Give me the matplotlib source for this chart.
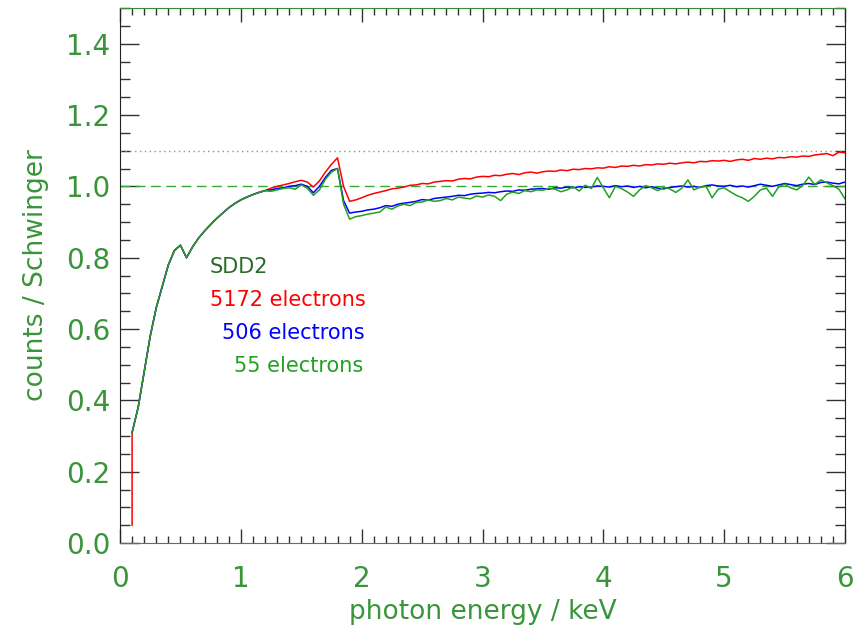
import numpy as np
import matplotlib
matplotlib.use('Agg')
import matplotlib.pyplot as plt
from matplotlib.ticker import MultipleLocator

# photon energy grid (keV), 0.05 keV bins from 0.10 to 6.00
energy = np.round(np.arange(0.10, 6.001, 0.05), 3)

# common rise below 1.25 keV (0.10 .. 1.20)
rise = [0.31, 0.38, 0.48, 0.58, 0.66, 0.72, 0.78, 0.82, 0.835, 0.80, 0.83,
        0.855, 0.875, 0.893, 0.91, 0.925, 0.94, 0.952, 0.962, 0.970, 0.977,
        0.983, 0.988]

# counts / Schwinger, 5172 electrons
red_tail = [0.995, 1.000, 1.004, 1.008, 1.013, 1.017, 1.012, 0.998, 1.015, 1.040,
            1.062, 1.080, 1.000, 0.958, 0.962, 0.968,
            0.975, 0.980, 0.984, 0.988, 0.993, 0.995, 0.998, 1.003, 1.004, 1.008,
            1.007, 1.012, 1.014, 1.016, 1.015, 1.020, 1.022, 1.021, 1.026, 1.028,
            1.027, 1.031, 1.030, 1.034, 1.036, 1.033, 1.038, 1.040, 1.037, 1.041,
            1.043, 1.042, 1.046, 1.044, 1.048, 1.047, 1.050, 1.049, 1.052, 1.051,
            1.055, 1.053, 1.057, 1.056, 1.059, 1.057, 1.061, 1.060, 1.063, 1.062,
            1.065, 1.063, 1.066, 1.068, 1.066, 1.070, 1.069, 1.072, 1.071, 1.073,
            1.070, 1.074, 1.076, 1.073, 1.078, 1.076, 1.079, 1.077, 1.081, 1.080,
            1.083, 1.082, 1.085, 1.084, 1.088, 1.090, 1.092, 1.086, 1.096, 1.094]

# counts / Schwinger, 506 electrons
blue_tail = [0.990, 0.994, 0.996, 1.000, 1.002, 1.006, 1.000, 0.982, 1.000, 1.025,
             1.045, 1.050, 0.960, 0.925, 0.928, 0.930,
             0.934, 0.936, 0.940, 0.946, 0.944, 0.950, 0.953, 0.955, 0.958, 0.963,
             0.961, 0.966, 0.968, 0.970, 0.972, 0.975, 0.974, 0.978, 0.980, 0.981,
             0.983, 0.982, 0.985, 0.987, 0.986, 0.990, 0.989, 0.992, 0.993, 0.994,
             0.992, 0.996, 0.995, 0.998, 0.996, 0.999, 0.997, 0.998, 1.001, 1.000,
             0.998, 1.002, 0.999, 1.001, 0.997, 1.000, 0.996, 0.999, 0.995, 0.993,
             0.997, 0.999, 1.001, 0.998, 1.000, 0.997, 1.002, 1.004, 1.001, 1.000,
             1.003, 0.999, 1.001, 0.998, 1.002, 1.006, 1.003, 1.000, 1.004, 1.008,
             1.005, 1.002, 1.006, 1.008, 1.005, 1.011, 1.012, 1.009, 1.007, 1.012]

# counts / Schwinger, 55 electrons
green_tail = [0.986, 0.990, 0.994, 0.996, 0.992, 1.004, 0.995, 0.975, 0.990, 1.020,
              1.040, 1.050, 0.950, 0.908, 0.915, 0.918,
              0.922, 0.925, 0.928, 0.942, 0.936, 0.945, 0.950, 0.946, 0.955, 0.956,
              0.962, 0.958, 0.960, 0.966, 0.962, 0.970, 0.967, 0.965, 0.973, 0.970,
              0.976, 0.972, 0.960, 0.978, 0.984, 0.980, 0.988, 0.985, 0.990, 0.989,
              0.995, 0.992, 0.985, 0.990, 0.999, 0.987, 1.003, 0.994, 1.025, 0.996,
              0.968, 1.000, 0.994, 0.984, 0.972, 0.990, 1.002, 0.996, 0.988, 0.997,
              0.993, 0.983, 0.995, 1.018, 0.990, 0.998, 1.000, 0.968, 0.992, 0.996,
              0.985, 0.975, 0.968, 0.958, 0.972, 0.990, 0.995, 0.972, 0.998, 1.006,
              0.996, 0.990, 1.002, 1.026, 1.005, 1.018, 1.010, 1.002, 0.992, 0.965]

# the 5172-electron run has one extra low bin at the start
red_start = 0.05

red = [red_start] + rise + red_tail
blue = rise + blue_tail
green = rise + green_tail
red_energy = np.concatenate([[energy[0]], energy])

labels = ['SDD2', '5172 electrons', '506 electrons', '55 electrons']
label_colors = ['#2a6a2a', '#ff0000', '#0000ff', '#22a022']
label_x = [0.745, 0.745, 0.845, 0.945]
label_y = [0.773, 0.680, 0.588, 0.496]

txt = '#3a943a'
plt.rcParams['font.family'] = 'DejaVu Sans'

fig = plt.figure(figsize=(8.61, 6.32), dpi=100)
ax = fig.add_axes([0.1394, 0.1408, 0.842, 0.8465])

ax.axhline(1.0, color='#33aa33', lw=1.0, dashes=(7, 4))
ax.axhline(1.1, color='#55bb55', lw=1.0, dashes=(1, 2.5))

ax.plot(red_energy, red, color='#ff0000', lw=1.1)
ax.plot(energy, blue, color='#0000ff', lw=1.1)
ax.plot(energy, green, color='#22a022', lw=1.1)

for s, c, x, y in zip(labels, label_colors, label_x, label_y):
    ax.text(x, y, s, color=c, fontsize=15, va='center', ha='left')

ax.set_xlim(0, 6)
ax.set_ylim(0, 1.5)
ax.set_yticks([0.0, 0.2, 0.4, 0.6, 0.8, 1.0, 1.2, 1.4])
ax.set_yticklabels(['0.0', '0.2', '0.4', '0.6', '0.8', '1.0', '1.2', '1.4'])
ax.xaxis.set_major_locator(MultipleLocator(1))
ax.xaxis.set_minor_locator(MultipleLocator(0.1))
ax.yaxis.set_minor_locator(MultipleLocator(0.05))

ax.tick_params(which='both', direction='in', top=True, right=True, colors='#333333', labelcolor=txt)
ax.tick_params(axis='x', which='major', length=10, width=1, pad=16, labelsize=20)
ax.tick_params(axis='x', which='minor', length=5, width=1)
ax.tick_params(axis='y', which='major', length=14, width=1, pad=7, labelsize=20)
ax.tick_params(axis='y', which='minor', length=7, width=1)

for side in ['left', 'right']:
    ax.spines[side].set_color('#222222')
for side in ['top', 'bottom']:
    ax.spines[side].set_color('#3a8a3a')

ax.set_xlabel('photon energy / keV', fontsize=19, color=txt, labelpad=4)
ax.set_ylabel('counts / Schwinger', fontsize=19, color=txt, labelpad=12)

fig.savefig('out.png', dpi=100)
